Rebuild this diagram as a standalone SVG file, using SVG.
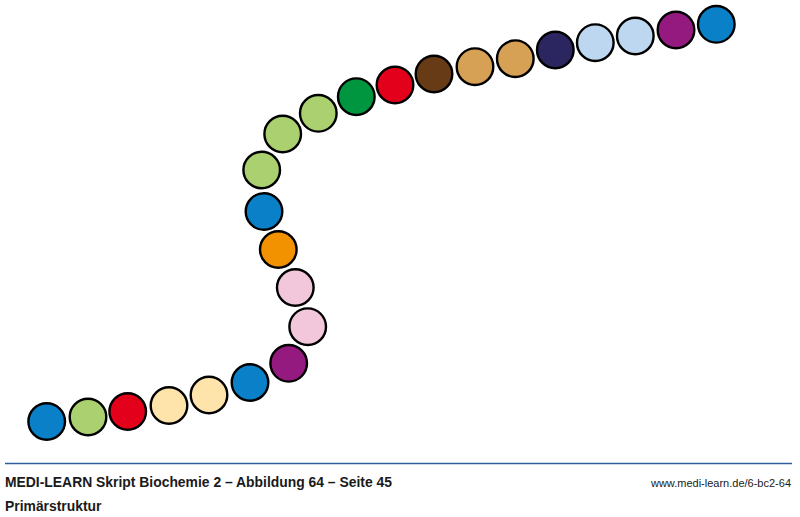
<svg xmlns="http://www.w3.org/2000/svg" width="800" height="517" viewBox="0 0 800 517">
<style>
circle{stroke:#000;stroke-width:2.4}
.b{fill:#0a80c8}.g{fill:#abd06f}.r{fill:#e3001b}.y{fill:#fee4aa}.p{fill:#941a80}.k{fill:#f2c7dc}.o{fill:#f39200}.dg{fill:#009640}.br{fill:#683b17}.t{fill:#d6a155}.n{fill:#2b2660}.lb{fill:#bdd7f0}
text{font-family:"Liberation Sans",Arial,sans-serif;fill:#1a1a1a}
.h{font-weight:bold;font-size:13.9px}
.u{font-size:11px}
</style>
<rect width="800" height="517" fill="#fff"/>
<g id="chain">
<circle id="a1" class="b" cx="46.7" cy="421.5" r="18.3"/>
<circle id="a2" class="g" cx="88" cy="417" r="18.3"/>
<circle id="a3" class="r" cx="127.7" cy="411.5" r="18.3"/>
<circle id="a4" class="y" cx="169" cy="405.5" r="18.3"/>
<circle id="a5" class="y" cx="209" cy="395" r="18.3"/>
<circle id="a6" class="b" cx="250" cy="382.5" r="18.3"/>
<circle id="a7" class="p" cx="288.7" cy="363.3" r="18.3"/>
<circle id="a8" class="k" cx="307.7" cy="326.7" r="18.3"/>
<circle id="a9" class="k" cx="295.3" cy="287.5" r="18.3"/>
<circle id="a10" class="o" cx="278.3" cy="249.5" r="18.3"/>
<circle id="a11" class="b" cx="264" cy="211.5" r="18.3"/>
<circle id="a12" class="g" cx="261.7" cy="170" r="18.3"/>
<circle id="a13" class="g" cx="282.7" cy="134" r="18.3"/>
<circle id="a14" class="g" cx="318.3" cy="113.3" r="18.3"/>
<circle id="a15" class="dg" cx="356.3" cy="96.7" r="18.3"/>
<circle id="a16" class="r" cx="395" cy="85" r="18.3"/>
<circle id="a17" class="br" cx="434" cy="74" r="18.3"/>
<circle id="a18" class="t" cx="475" cy="66.7" r="18.3"/>
<circle id="a19" class="t" cx="515.3" cy="58.7" r="18.3"/>
<circle id="a20" class="n" cx="555.3" cy="50" r="18.3"/>
<circle id="a21" class="lb" cx="595.3" cy="42.7" r="18.3"/>
<circle id="a22" class="lb" cx="635.3" cy="36" r="18.3"/>
<circle id="a23" class="p" cx="676" cy="30" r="18.3"/>
<circle id="a24" class="b" cx="716.3" cy="24.3" r="18.3"/>
</g>
<g id="connectors"></g>
<g id="footer">
<line x1="5" y1="463.5" x2="792" y2="463.5" stroke="#2f5f9e" stroke-width="1.5"/>
<text class="h" x="5" y="487">MEDI-LEARN Skript Biochemie 2 – Abbildung 64 – Seite 45</text>
<text class="h" x="5" y="511">Primärstruktur</text>
<text class="u" x="791" y="487" text-anchor="end">www.medi-learn.de/6-bc2-64</text>
</g>
</svg>
